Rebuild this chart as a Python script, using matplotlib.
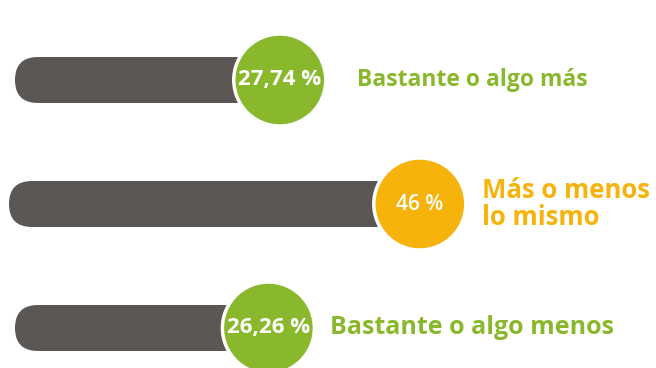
import matplotlib.pyplot as plt
from matplotlib.patches import FancyBboxPatch, Circle

# Datos
categorias = ["Bastante o algo más", "Más o menos\nlo mismo", "Bastante o algo menos"]
valores = [27.74, 46.0, 26.26]
etiquetas = ["27,74 %", "46 %", "26,26 %"]

gris = "#5a5755"
verde = "#8ab82c"
naranja = "#f5b30c"
colores = [verde, naranja, verde]

# Escala: 1 unidad = 1 punto porcentual (aprox. 7.67 px)
px = 7.67
fig = plt.figure(figsize=(6.56, 3.68), dpi=100)
ax = fig.add_axes([0, 0, 1, 1])
ax.set_xlim(-67 / px, (656 - 67) / px)
ax.set_ylim(368 / px, 0)
ax.set_aspect("equal")
ax.axis("off")

filas_y = [80 / px, 204 / px, 328 / px]
inicio = [15 / px, 9 / px, 15 / px]
sep_texto = [77 / px, 62 / px, 62 / px]
tam_texto = [16.5, 18.5, 18]
tam_valor = [16, 15, 16]
peso_valor = ["bold", "semibold", "bold"]
alto = 46 / px
radio = 46 / px

for i, v in enumerate(valores):
    y = filas_y[i]
    x0 = -67 / px + inicio[i]
    barra = FancyBboxPatch((x0, y - alto / 2), v - x0, alto,
                           boxstyle=f"round,pad=0,rounding_size={alto / 2}",
                           facecolor=gris, edgecolor="none", zorder=1)
    ax.add_patch(barra)
    circ = Circle((v, y), radio, facecolor=colores[i], edgecolor="white",
                  linewidth=2.5, zorder=2)
    ax.add_patch(circ)
    ax.text(v, y, etiquetas[i], color="white", fontsize=tam_valor[i],
            fontweight=peso_valor[i], family="Open Sans", ha="center",
            va="center", zorder=3)
    ax.text(v + sep_texto[i], y, categorias[i], color=colores[i],
            fontsize=tam_texto[i], fontweight="bold", family="Open Sans",
            ha="left", va="center", linespacing=1.0, zorder=3)

plt.savefig("out.png", dpi=100)
plt.close(fig)
